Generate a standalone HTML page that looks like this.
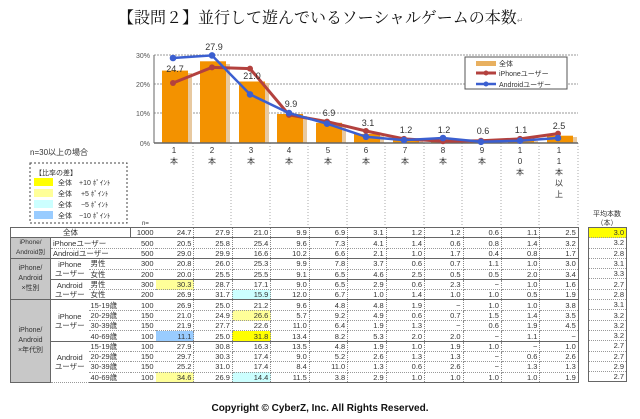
<!DOCTYPE html>
<html><head><meta charset="utf-8">
<style>
body{margin:0;width:640px;height:419px;background:#fff;position:relative;overflow:hidden;font-family:"Liberation Sans","Noto Sans CJK JP",sans-serif;color:#333}
.a{position:absolute}
table{border-collapse:collapse;position:absolute;left:10px;top:227px;table-layout:fixed;font-size:7.5px}
td{height:9.3px;padding:0 2px;border-bottom:1px dotted #999;line-height:9px;white-space:nowrap;text-align:right}
td.d{border-right:1px dotted #888}
td.g{background:#c8c8c8;text-align:center;border-bottom:1px solid #666;border-right:1px solid #666;white-space:normal;line-height:10px}
td.l{text-align:left}
td.c{text-align:center}
tr.s td{border-bottom:1px solid #666}
.Y{background:#ffff00}.LY{background:#ffff99}.C{background:#ccffff}.B{background:#99ccff}
</style></head><body>
<div class="a" style="left:118px;top:5px;font:16px 'Noto Serif CJK JP','Noto Serif CJK SC',serif;color:#111;white-space:nowrap">【設問２】並行して遊んでいるソーシャルゲームの本数<span style="font-size:8px;color:#999">↵</span></div>

<svg class="a" style="left:0;top:0" width="640" height="419">
<g stroke="#999" stroke-dasharray="2,1">
<line x1="154" y1="55" x2="578" y2="55"/><line x1="154" y1="84" x2="578" y2="84"/><line x1="154" y1="113" x2="578" y2="113"/>
</g>
<g stroke="#aaa" stroke-dasharray="1,2">
<line x1="193" y1="143" x2="193" y2="227"/><line x1="231" y1="143" x2="231" y2="227"/><line x1="270" y1="143" x2="270" y2="227"/><line x1="308" y1="143" x2="308" y2="227"/><line x1="347" y1="143" x2="347" y2="227"/><line x1="385" y1="143" x2="385" y2="227"/><line x1="424" y1="143" x2="424" y2="227"/><line x1="462" y1="143" x2="462" y2="227"/><line x1="501" y1="143" x2="501" y2="227"/><line x1="539" y1="143" x2="539" y2="227"/><line x1="578" y1="143" x2="578" y2="227"/>
</g>
<g fill="#e8c9a0">
<rect x="164" y="73" width="28" height="70"/><rect x="202" y="64" width="28" height="79"/><rect x="241" y="83" width="28" height="60"/><rect x="279" y="116" width="28" height="27"/><rect x="318" y="125" width="28" height="18"/><rect x="356" y="136" width="28" height="7"/><rect x="395" y="141" width="28" height="2"/><rect x="433" y="141" width="28" height="2"/><rect x="472" y="142" width="28" height="1"/><rect x="510" y="141" width="28" height="2"/><rect x="549" y="137" width="28" height="6"/>
</g>
<g fill="#f39200">
<rect x="162" y="70.6" width="26" height="72.4"/><rect x="200" y="61.3" width="26" height="81.7"/><rect x="239" y="81.5" width="26" height="61.5"/><rect x="277" y="114" width="26" height="29"/><rect x="316" y="122.8" width="26" height="20.2"/><rect x="354" y="133.9" width="26" height="9.1"/><rect x="393" y="139.5" width="26" height="3.5"/><rect x="431" y="139.5" width="26" height="3.5"/><rect x="470" y="141.2" width="26" height="1.8"/><rect x="508" y="139.8" width="26" height="3.2"/><rect x="547" y="135.7" width="26" height="7.3"/>
</g>
<line x1="154" y1="55" x2="154" y2="143" stroke="#666"/>
<line x1="154" y1="143" x2="578" y2="143" stroke="#666" stroke-width="1.5"/>
<g font-size="7" fill="#555" text-anchor="end"><text x="150" y="58">30%</text><text x="150" y="87">20%</text><text x="150" y="116">10%</text><text x="150" y="146">0%</text></g>
<polyline fill="none" stroke="#b3413e" stroke-width="3" points="173,83 212,67.4 250,68.6 289,114.9 327,121.6 366,131 404,138.9 443,141.2 481,140.7 520,138.9 558,133.6"/>
<g fill="#b3413e"><circle cx="173" cy="83" r="3"/><circle cx="212" cy="67.4" r="3"/><circle cx="250" cy="68.6" r="3"/><circle cx="289" cy="114.9" r="3"/><circle cx="327" cy="121.6" r="3"/><circle cx="366" cy="131" r="3"/><circle cx="404" cy="138.9" r="3"/><circle cx="443" cy="141.2" r="3"/><circle cx="481" cy="140.7" r="3"/><circle cx="520" cy="138.9" r="3"/><circle cx="558" cy="133.6" r="3"/></g>
<polyline fill="none" stroke="#3b5fd0" stroke-width="2.5" points="173,58 212,55.4 250,94.4 289,113.1 327,123.7 366,136.8 404,140.1 443,138 481,141.8 520,140.7 558,138"/>
<g fill="#3b5fd0"><circle cx="173" cy="58" r="3.3"/><circle cx="212" cy="55.4" r="3.3"/><circle cx="250" cy="94.4" r="3.3"/><circle cx="289" cy="113.1" r="3.3"/><circle cx="327" cy="123.7" r="3.3"/><circle cx="366" cy="136.8" r="3.3"/><circle cx="404" cy="140.1" r="3.3"/><circle cx="443" cy="138" r="3.3"/><circle cx="481" cy="141.8" r="3.3"/><circle cx="520" cy="140.7" r="3.3"/><circle cx="558" cy="138" r="3.3"/></g>
<g font-size="9" fill="#333" text-anchor="middle">
<text x="175" y="72">24.7</text><text x="214" y="50">27.9</text><text x="252" y="79">21.0</text><text x="291" y="107">9.9</text><text x="329" y="116">6.9</text><text x="368" y="126">3.1</text><text x="406" y="133">1.2</text><text x="444" y="133">1.2</text><text x="483" y="134">0.6</text><text x="521" y="133">1.1</text><text x="559" y="129">2.5</text>
</g>
<g font-size="8" fill="#333" text-anchor="middle" font-family="Liberation Sans,Noto Sans CJK JP,sans-serif">
<text x="174" y="153">1</text><text x="174" y="164">本</text>
<text x="212" y="153">2</text><text x="212" y="164">本</text>
<text x="251" y="153">3</text><text x="251" y="164">本</text>
<text x="289" y="153">4</text><text x="289" y="164">本</text>
<text x="328" y="153">5</text><text x="328" y="164">本</text>
<text x="366" y="153">6</text><text x="366" y="164">本</text>
<text x="405" y="153">7</text><text x="405" y="164">本</text>
<text x="443" y="153">8</text><text x="443" y="164">本</text>
<text x="482" y="153">9</text><text x="482" y="164">本</text>
<text x="520" y="153">1</text><text x="520" y="164">0</text><text x="520" y="175">本</text>
<text x="559" y="153">1</text><text x="559" y="164">1</text><text x="559" y="175">本</text><text x="559" y="186">以</text><text x="559" y="197">上</text>
</g>
<rect x="465" y="57" width="102" height="32" fill="#fff" stroke="#555"/>
<rect x="476" y="61" width="20" height="5" fill="#e8b060"/>
<line x1="476" y1="73" x2="496" y2="73" stroke="#b3413e" stroke-width="3"/><circle cx="486" cy="73" r="2.5" fill="#b3413e"/>
<line x1="476" y1="84" x2="496" y2="84" stroke="#3b5fd0" stroke-width="2.5"/><circle cx="486" cy="84" r="2.5" fill="#3b5fd0"/>
<g font-size="7" fill="#333"><text x="499" y="66">全体</text><text x="499" y="76">iPhoneユーザー</text><text x="499" y="87">Androidユーザー</text></g>
<text x="30" y="155" font-size="8" fill="#333">n=30以上の場合</text>
<rect x="30" y="163" width="97" height="60" fill="none" stroke="#444" stroke-dasharray="2,2"/>
<g font-size="7" fill="#333"><text x="35" y="175">【比率の差】</text>
<rect x="34" y="178" width="19" height="8" fill="#ffff00"/><text x="58" y="185">全体　+10 ﾎﾟｲﾝﾄ</text>
<rect x="34" y="189" width="19" height="8" fill="#ffff99"/><text x="58" y="196">全体　 +5 ﾎﾟｲﾝﾄ</text>
<rect x="34" y="200" width="19" height="8" fill="#ccffff"/><text x="58" y="207">全体　 −5 ﾎﾟｲﾝﾄ</text>
<rect x="34" y="211" width="19" height="8" fill="#99ccff"/><text x="58" y="218">全体　−10 ﾎﾟｲﾝﾄ</text></g>
<text x="142" y="225" font-size="6" fill="#333">n=</text>
<g font-size="7" fill="#333" text-anchor="middle"><text x="607" y="216">平均本数</text><text x="607" y="225">（本）</text></g>
<text x="320" y="411" font-size="10" font-weight="bold" fill="#111" text-anchor="middle">Copyright © CyberZ, Inc. All Rights Reserved.</text>
</svg>

<table style="width:568px;border-top:1px solid #666;border-left:1px solid #666;border-right:1px solid #666">
<colgroup><col style="width:40px"><col style="width:38px"><col style="width:42px"><col style="width:25px"><col span="11" style="width:38.45px"></colgroup>
<tr class="s"><td colspan="3" class="c" style="border-right:1px solid #666">全体</td><td>1000</td><td class="d">24.7</td><td class="d">27.9</td><td class="d">21.0</td><td class="d">9.9</td><td class="d">6.9</td><td class="d">3.1</td><td class="d">1.2</td><td class="d">1.2</td><td class="d">0.6</td><td class="d">1.1</td><td>2.5</td></tr>
<tr><td class="g" rowspan="2" style="font-size:6.5px;line-height:10px">iPhone/<br>Android別</td><td colspan="2" class="l">iPhoneユーザー</td><td>500</td><td class="d">20.5</td><td class="d">25.8</td><td class="d">25.4</td><td class="d">9.6</td><td class="d">7.3</td><td class="d">4.1</td><td class="d">1.4</td><td class="d">0.6</td><td class="d">0.8</td><td class="d">1.4</td><td>3.2</td></tr>
<tr class="s"><td colspan="2" class="l">Androidユーザー</td><td>500</td><td class="d">29.0</td><td class="d">29.9</td><td class="d">16.6</td><td class="d">10.2</td><td class="d">6.6</td><td class="d">2.1</td><td class="d">1.0</td><td class="d">1.7</td><td class="d">0.4</td><td class="d">0.8</td><td>1.7</td></tr>
<tr><td class="g" rowspan="4" style="font-size:7px">iPhone/<br>Android<br>×性別</td><td class="c" rowspan="2" style="border-bottom:1px solid #666">iPhone<br>ユーザー</td><td class="l">男性</td><td>300</td><td class="d">20.8</td><td class="d">26.0</td><td class="d">25.3</td><td class="d">9.9</td><td class="d">7.8</td><td class="d">3.7</td><td class="d">0.6</td><td class="d">0.7</td><td class="d">1.1</td><td class="d">1.0</td><td>3.0</td></tr>
<tr class="s"><td class="l">女性</td><td>200</td><td class="d">20.0</td><td class="d">25.5</td><td class="d">25.5</td><td class="d">9.1</td><td class="d">6.5</td><td class="d">4.6</td><td class="d">2.5</td><td class="d">0.5</td><td class="d">0.5</td><td class="d">2.0</td><td>3.4</td></tr>
<tr><td class="c" rowspan="2" style="border-bottom:1px solid #666">Android<br>ユーザー</td><td class="l">男性</td><td>300</td><td class="d Y" style="background:#ffff99">30.3</td><td class="d">28.7</td><td class="d">17.1</td><td class="d">9.0</td><td class="d">6.5</td><td class="d">2.9</td><td class="d">0.6</td><td class="d">2.3</td><td class="d">−</td><td class="d">1.0</td><td>1.6</td></tr>
<tr class="s"><td class="l">女性</td><td>200</td><td class="d">26.9</td><td class="d">31.7</td><td class="d C">15.9</td><td class="d">12.0</td><td class="d">6.7</td><td class="d">1.0</td><td class="d">1.4</td><td class="d">1.0</td><td class="d">1.0</td><td class="d">0.5</td><td>1.9</td></tr>
<tr><td class="g" rowspan="8" style="font-size:7px">iPhone/<br>Android<br>×年代別</td><td class="c" rowspan="4" style="border-bottom:1px solid #666">iPhone<br>ユーザー</td><td class="l">15-19歳</td><td>100</td><td class="d">26.9</td><td class="d">25.0</td><td class="d">21.2</td><td class="d">9.6</td><td class="d">4.8</td><td class="d">4.8</td><td class="d">1.9</td><td class="d">−</td><td class="d">1.0</td><td class="d">1.0</td><td>3.8</td></tr>
<tr><td class="l">20-29歳</td><td>150</td><td class="d">21.0</td><td class="d">24.9</td><td class="d LY">26.6</td><td class="d">5.7</td><td class="d">9.2</td><td class="d">4.9</td><td class="d">0.6</td><td class="d">0.7</td><td class="d">1.5</td><td class="d">1.4</td><td>3.5</td></tr>
<tr><td class="l">30-39歳</td><td>150</td><td class="d">21.9</td><td class="d">27.7</td><td class="d">22.6</td><td class="d">11.0</td><td class="d">6.4</td><td class="d">1.9</td><td class="d">1.3</td><td class="d">−</td><td class="d">0.6</td><td class="d">1.9</td><td>4.5</td></tr>
<tr class="s"><td class="l">40-69歳</td><td>100</td><td class="d B">11.1</td><td class="d">25.0</td><td class="d Y">31.8</td><td class="d">13.4</td><td class="d">8.2</td><td class="d">5.3</td><td class="d">2.0</td><td class="d">2.0</td><td class="d">−</td><td class="d">1.1</td><td>−</td></tr>
<tr><td class="c" rowspan="4">Android<br>ユーザー</td><td class="l">15-19歳</td><td>100</td><td class="d">27.9</td><td class="d">30.8</td><td class="d">16.3</td><td class="d">13.5</td><td class="d">4.8</td><td class="d">1.9</td><td class="d">1.0</td><td class="d">1.9</td><td class="d">1.0</td><td class="d">−</td><td>1.0</td></tr>
<tr><td class="l">20-29歳</td><td>150</td><td class="d">29.7</td><td class="d">30.3</td><td class="d">17.4</td><td class="d">9.0</td><td class="d">5.2</td><td class="d">2.6</td><td class="d">1.3</td><td class="d">1.3</td><td class="d">−</td><td class="d">0.6</td><td>2.6</td></tr>
<tr><td class="l">30-39歳</td><td>150</td><td class="d">25.2</td><td class="d">31.0</td><td class="d">17.4</td><td class="d">8.4</td><td class="d">11.0</td><td class="d">1.3</td><td class="d">0.6</td><td class="d">2.6</td><td class="d">−</td><td class="d">1.3</td><td>1.3</td></tr>
<tr class="s"><td class="l">40-69歳</td><td>100</td><td class="d LY">34.6</td><td class="d">26.9</td><td class="d C">14.4</td><td class="d">11.5</td><td class="d">3.8</td><td class="d">2.9</td><td class="d">1.0</td><td class="d">1.0</td><td class="d">1.0</td><td class="d">1.0</td><td>1.9</td></tr>
</table>

<table style="left:588px;width:39px;border:1px solid #666">
<tr><td class="Y">3.0</td></tr><tr><td>3.2</td></tr><tr><td>2.8</td></tr><tr><td>3.1</td></tr><tr><td>3.3</td></tr><tr><td>2.7</td></tr><tr><td>2.8</td></tr><tr><td>3.1</td></tr><tr><td>3.2</td></tr><tr><td>3.2</td></tr><tr><td>3.2</td></tr><tr><td>2.7</td></tr><tr><td>2.7</td></tr><tr><td>2.9</td></tr><tr><td>2.7</td></tr>
</table>
</body></html>
